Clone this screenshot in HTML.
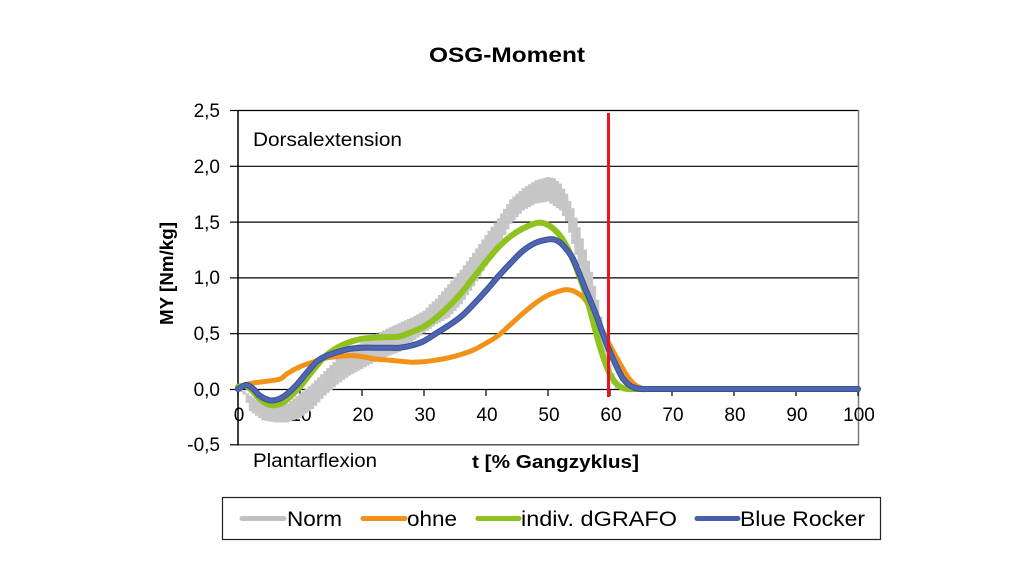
<!DOCTYPE html>
<html>
<head>
<meta charset="utf-8">
<style>
  html,body{margin:0;padding:0;background:#fff;}
  svg{display:block;}
  text{font-family:"Liberation Sans",Arial,sans-serif;fill:#000;}
</style>
</head>
<body>
<svg id="c" width="1024" height="576" viewBox="0 0 1024 576" xmlns="http://www.w3.org/2000/svg">
  <rect x="0" y="0" width="1024" height="576" fill="#fff"/>
  <!-- title -->
  <text x="429" y="62" font-size="21" font-weight="bold" textLength="156" lengthAdjust="spacingAndGlyphs">OSG-Moment</text>

  <!-- gridlines -->
  <g stroke="#000" stroke-width="1.2">
    <line x1="238" y1="110.5" x2="859" y2="110.5"/>
    <line x1="238" y1="166.3" x2="859" y2="166.3"/>
    <line x1="238" y1="222.1" x2="859" y2="222.1"/>
    <line x1="238" y1="277.9" x2="859" y2="277.9"/>
    <line x1="238" y1="333.7" x2="859" y2="333.7"/>
    <line x1="238" y1="389.5" x2="859" y2="389.5"/>
  </g>
  <!-- plot border right/bottom -->
  <line x1="858.5" y1="110" x2="858.5" y2="445" stroke="#7a7a7a" stroke-width="1.5"/>
  <line x1="238" y1="444.8" x2="859" y2="444.8" stroke="#555" stroke-width="1.5"/>
  <!-- y axis -->
  <line x1="238" y1="110" x2="238" y2="445.5" stroke="#000" stroke-width="1.5"/>
  <g stroke="#000" stroke-width="1.2">
    <line x1="230" y1="110.5" x2="238" y2="110.5"/>
    <line x1="230" y1="166.3" x2="238" y2="166.3"/>
    <line x1="230" y1="222.1" x2="238" y2="222.1"/>
    <line x1="230" y1="277.9" x2="238" y2="277.9"/>
    <line x1="230" y1="333.7" x2="238" y2="333.7"/>
    <line x1="230" y1="389.5" x2="238" y2="389.5"/>
    <line x1="230" y1="444.8" x2="238" y2="444.8"/>
  </g>
  <!-- x ticks -->
  <g id="xticks" stroke="#000" stroke-width="1.2"></g>

  <!-- y tick labels -->
  <g font-size="19" text-anchor="end">
    <text x="220" y="117">2,5</text>
    <text x="220" y="173">2,0</text>
    <text x="220" y="229">1,5</text>
    <text x="220" y="284">1,0</text>
    <text x="220" y="340">0,5</text>
    <text x="220" y="396">0,0</text>
    <text x="220" y="451">-0,5</text>
  </g>
  <!-- x tick labels -->
  <g id="xlabels" font-size="19" text-anchor="middle"></g>

  <!-- annotations -->
  <text x="253" y="146" font-size="19" textLength="149" lengthAdjust="spacingAndGlyphs">Dorsalextension</text>
  <text x="253" y="467" font-size="19" textLength="124" lengthAdjust="spacingAndGlyphs">Plantarflexion</text>
  <text x="472" y="468" font-size="18" font-weight="bold" textLength="167" lengthAdjust="spacingAndGlyphs">t [% Gangzyklus]</text>
  <text transform="translate(173,325) rotate(-90)" x="0" y="0" font-size="18" font-weight="bold" textLength="103" lengthAdjust="spacingAndGlyphs">MY [Nm/kg]</text>

  <!-- series -->
  <g id="norm" fill="#c6c6c6"></g>
  <path id="orange" fill="none" stroke="#f39219" stroke-width="5" stroke-linejoin="round" stroke-linecap="round"/>
  <path id="green" fill="none" stroke="#8fc21e" stroke-width="6" stroke-linejoin="round" stroke-linecap="round"/>
  <path id="blueE" fill="none" stroke="#3a4f95" stroke-width="6" stroke-linejoin="round" stroke-linecap="round"/>
  <path id="blue" fill="none" stroke="#4d66b2" stroke-width="4" stroke-linejoin="round" stroke-linecap="round"/>

  <!-- red marker line -->
  <line x1="608.5" y1="113" x2="608.5" y2="397" stroke="#e8141f" stroke-width="3"/>

  <!-- legend -->
  <rect x="222.5" y="497.5" width="658" height="42" fill="#fff" stroke="#222" stroke-width="1.2"/>
  <g stroke-width="5" stroke-linecap="round">
    <line x1="242" y1="518.5" x2="284" y2="518.5" stroke="#c0c0c0"/>
    <line x1="363" y1="518.5" x2="405" y2="518.5" stroke="#f39219"/>
    <line x1="478" y1="518.5" x2="519" y2="518.5" stroke="#8fc21e"/>
    <line x1="697" y1="518.5" x2="738" y2="518.5" stroke="#4760aa"/>
  </g>
  <g font-size="21">
    <text x="287" y="526" textLength="55" lengthAdjust="spacingAndGlyphs">Norm</text>
    <text x="407" y="526" textLength="50" lengthAdjust="spacingAndGlyphs">ohne</text>
    <text x="521" y="526" textLength="156" lengthAdjust="spacingAndGlyphs">indiv. dGRAFO</text>
    <text x="740" y="526" textLength="125" lengthAdjust="spacingAndGlyphs">Blue Rocker</text>
  </g>
</svg>
<script>
(function(){
  var NS="http://www.w3.org/2000/svg";
  var X=function(t){return 238+6.2*t;}, Y=function(v){return 389-111.6*v;};
  var xt=document.getElementById("xticks"), xl=document.getElementById("xlabels");
  for(var k=0;k<=10;k++){
    var x=238+62*k;
    var l=document.createElementNS(NS,"line");
    l.setAttribute("x1",x);l.setAttribute("x2",x);l.setAttribute("y1",389);l.setAttribute("y2",396);
    xt.appendChild(l);
    var t=document.createElementNS(NS,"text");
    t.setAttribute("x",x+1);t.setAttribute("y",421);t.textContent=String(k*10);
    xl.appendChild(t);
  }
  function path(pts){
    var P=pts.map(function(p){return [X(p[0]),Y(p[1])];});
    var d="M"+P[0][0].toFixed(2)+","+P[0][1].toFixed(2);
    for(var i=0;i<P.length-1;i++){
      var p0=P[Math.max(i-1,0)],p1=P[i],p2=P[i+1],p3=P[Math.min(i+2,P.length-1)];
      var c1=[p1[0]+(p2[0]-p0[0])/6,p1[1]+(p2[1]-p0[1])/6];
      var c2=[p2[0]-(p3[0]-p1[0])/6,p2[1]-(p3[1]-p1[1])/6];
      d+="C"+c1[0].toFixed(2)+","+c1[1].toFixed(2)+" "+c2[0].toFixed(2)+","+c2[1].toFixed(2)+" "+p2[0].toFixed(2)+","+p2[1].toFixed(2);
    }
    return d;
  }
  var tail=[[70,0],[75,0],[80,0],[85,0],[90,0],[95,0],[100,0]];
  var orange=[[0,0.02],[1,0.035],[2,0.05],[4,0.065],[6,0.08],[7,0.095],[8,0.14],[10,0.2],[12,0.24],[14,0.275],[16,0.29],[18,0.3],[20,0.29],[22,0.27],[24,0.26],[26,0.25],[28,0.24],[30,0.245],[32,0.26],[34,0.28],[36,0.31],[38,0.35],[40,0.41],[42,0.48],[44,0.58],[46,0.68],[48,0.77],[50,0.84],[52,0.88],[53,0.89],[54,0.88],[55,0.85],[56,0.8],[57,0.7],[58,0.6],[59,0.5],[60,0.39],[61,0.29],[62,0.19],[63,0.1],[64,0.04],[65,0.01],[66,0],[68,0]].concat(tail);
  var green=[[0,0.02],[1,0.03],[2,0.0],[3,-0.06],[4,-0.11],[5,-0.14],[6,-0.145],[7,-0.13],[8,-0.09],[10,0.02],[12,0.16],[14,0.29],[16,0.37],[18,0.42],[20,0.45],[22,0.46],[24,0.465],[26,0.47],[28,0.51],[30,0.56],[32,0.64],[34,0.74],[36,0.86],[38,1.0],[40,1.14],[42,1.27],[44,1.37],[46,1.44],[48,1.485],[49,1.49],[50,1.47],[51,1.43],[52,1.37],[53,1.28],[54,1.16],[55,1.02],[56,0.86],[57,0.66],[58,0.45],[59,0.27],[60,0.13],[61,0.05],[62,0.01],[63,0],[65,0]].concat(tail);
  var blue=[[0,0.0],[1,0.03],[1.5,0.035],[2.5,0.0],[3.5,-0.06],[5,-0.1],[6,-0.1],[7,-0.08],[8,-0.04],[9.5,0.04],[11,0.14],[12.7,0.245],[14,0.29],[16,0.33],[18,0.36],[20,0.37],[22,0.37],[24,0.37],[26,0.37],[28,0.39],[30,0.43],[32,0.5],[34,0.57],[36,0.65],[38,0.76],[40,0.88],[42,1.01],[44,1.13],[46,1.24],[48,1.31],[50,1.34],[51,1.34],[52,1.31],[53,1.25],[54,1.17],[55,1.04],[56,0.9],[57,0.77],[58,0.63],[59,0.47],[60,0.33],[61,0.21],[62,0.1],[63,0.04],[64,0.01],[65,0],[67,0]].concat(tail);
  document.getElementById("orange").setAttribute("d",path(orange));
  document.getElementById("green").setAttribute("d",path(green));
  document.getElementById("blueE").setAttribute("d",path(blue));
  document.getElementById("blue").setAttribute("d",path(blue));

  var up=[[0,0.01],[1,-0.02],[2,-0.06],[4,-0.13],[6,-0.15],[8,-0.13],[10,-0.04],[11,0.0],[12,0.05],[14,0.16],[16,0.27],[18,0.36],[20,0.42],[22,0.48],[24,0.54],[26,0.59],[28,0.64],[30,0.7],[31,0.76],[32,0.81],[34,0.94],[36,1.07],[38,1.22],[40,1.38],[42,1.53],[44,1.7],[46,1.8],[48,1.87],[50,1.9],[51,1.89],[52,1.84],[53,1.75],[54,1.62],[55,1.45],[56,1.25],[57,1.05],[58,0.8],[59,0.5],[60,0.22],[61,0.06],[62,0.0]];
  var lo=[[0,0.0],[1,-0.05],[2,-0.2],[4,-0.28],[6,-0.3],[8,-0.3],[10,-0.26],[12,-0.18],[14,-0.06],[16,0.04],[18,0.12],[20,0.18],[22,0.24],[24,0.29],[26,0.33],[28,0.42],[30,0.5],[32,0.58],[34,0.64],[36,0.76],[38,0.92],[40,1.1],[42,1.28],[44,1.48],[46,1.6],[48,1.66],[50,1.68],[52,1.6],[53,1.5],[54,1.3],[55,1.1],[56,0.86],[57,0.66],[58,0.45],[59,0.25],[60,0.08],[61,0.0],[62,0.0]];
  function interp(a,t){
    if(t<=a[0][0])return a[0][1];
    for(var i=0;i<a.length-1;i++){
      if(t>=a[i][0]&&t<=a[i+1][0]){var f=(t-a[i][0])/(a[i+1][0]-a[i][0]);return a[i][1]+f*(a[i+1][1]-a[i][1]);}
    }
    return a[a.length-1][1];
  }
  var g=document.getElementById("norm");
  for(var t=0;t<=61.5;t+=0.5){
    var u=interp(up,t), l2=interp(lo,t);
    var yt=Y(u), yb=Y(l2);
    if(yb-yt<3){var m=(yt+yb)/2;yt=m-1.5;yb=m+1.5;}
    var r=document.createElementNS(NS,"rect");
    r.setAttribute("x",(X(t)-1.6).toFixed(2));
    r.setAttribute("y",yt.toFixed(2));
    r.setAttribute("width","3.3");
    r.setAttribute("height",(yb-yt).toFixed(2));
    g.appendChild(r);
  }
})();
</script>
</body>
</html>
